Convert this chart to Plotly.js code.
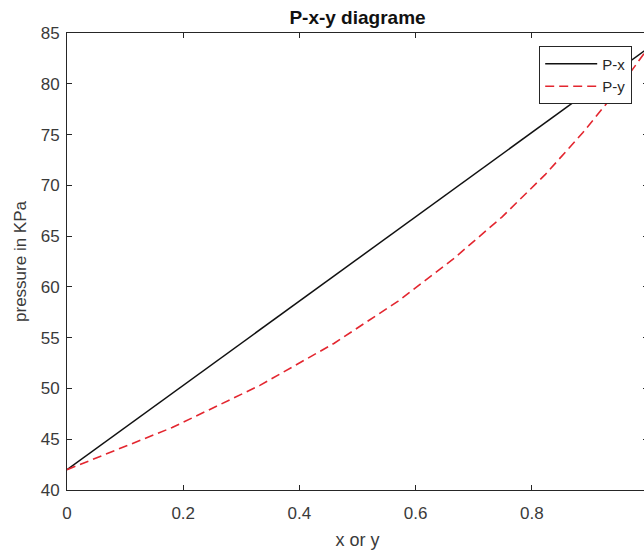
<!DOCTYPE html>
<html>
<head>
<meta charset="utf-8">
<script src="https://cdn.plot.ly/plotly-3.0.1.min.js"></script>
<style>
html,body{margin:0;padding:0;overflow:hidden;background:#fff;}
#chart{width:660px;height:551px;}
</style>
</head>
<body>
<div id="chart"></div>
<script>
// Liquid composition x and bubble pressure (P-x)
var xLiquid = [0, 0.1, 0.2, 0.3, 0.4, 0.5, 0.6, 0.7, 0.8, 0.9, 1.0];
var pBubble = [42.0, 46.15, 50.3, 54.45, 58.6, 62.75, 66.9, 71.05, 75.2, 79.35, 83.5];
// Vapour composition y and dew pressure (P-y)
var yVapour = [0, 0.181, 0.332, 0.460, 0.570, 0.665, 0.749, 0.823, 0.888, 0.947, 1.0];
var pDew = [42.0, 46.15, 50.3, 54.45, 58.6, 62.75, 66.9, 71.05, 75.2, 79.35, 83.5];

var xTicks = [0, 0.2, 0.4, 0.6, 0.8, 1];
var xTickText = ['0', '0.2', '0.4', '0.6', '0.8', ''];
var yTicks = [40, 45, 50, 55, 60, 65, 70, 75, 80, 85];

var axisColor = '#262626';
var fam = 'Liberation Sans, Arial, sans-serif';

var traces = [
  {x: xLiquid, y: pBubble, name: 'P-x', mode: 'lines', type: 'scatter',
   line: {color: '#111111', width: 1.5}},
  {x: yVapour, y: pDew, name: 'P-y', mode: 'lines', type: 'scatter',
   line: {color: '#e3262f', width: 1.6, dash: '9px,5px'}}
];

var layout = {
  width: 660, height: 551,
  margin: {l: 67, r: 12, t: 33, b: 61},
  paper_bgcolor: '#fff', plot_bgcolor: '#fff',
  font: {family: fam, size: 17, color: axisColor},
  title: {text: '<b>P-x-y diagrame</b>', x: 0.5, xref: 'paper', xanchor: 'center',
          y: 1 - 17/551, yanchor: 'middle', font: {family: fam, size: 19, color: '#111'}},
  showlegend: true,
  legend: {x: (632 - 67) / 581, y: 0.971, xanchor: 'right', yanchor: 'top',
           bgcolor: '#fff', bordercolor: axisColor, borderwidth: 1.2,
           font: {family: fam, size: 15, color: axisColor},
           tracegroupgap: 0, itemwidth: 52},
  xaxis: {range: [0, 1], tickvals: xTicks, ticktext: xTickText,
          showgrid: false, zeroline: false, showline: true, linecolor: axisColor, linewidth: 1,
          mirror: 'ticks', ticks: 'inside', ticklen: 5, tickcolor: axisColor,
          ticklabelstandoff: 8,
          tickfont: {size: 17, color: '#3a3a3a', family: fam},
          title: {text: 'x or y', standoff: 10, font: {size: 18, color: '#3a3a3a', family: fam}}},
  yaxis: {range: [40, 85], tickvals: yTicks, ticktext: yTicks.map(String),
          showgrid: false, zeroline: false, showline: true, linecolor: axisColor, linewidth: 1,
          mirror: 'ticks', ticks: 'inside', ticklen: 5, tickcolor: axisColor,
          ticklabelstandoff: 3,
          tickfont: {size: 17, color: '#3a3a3a', family: fam},
          title: {text: 'pressure in KPa', standoff: 9, font: {size: 17, color: '#3a3a3a', family: fam}}}
};

Plotly.newPlot('chart', traces, layout, {displayModeBar: false, staticPlot: true});
</script>
</body>
</html>
